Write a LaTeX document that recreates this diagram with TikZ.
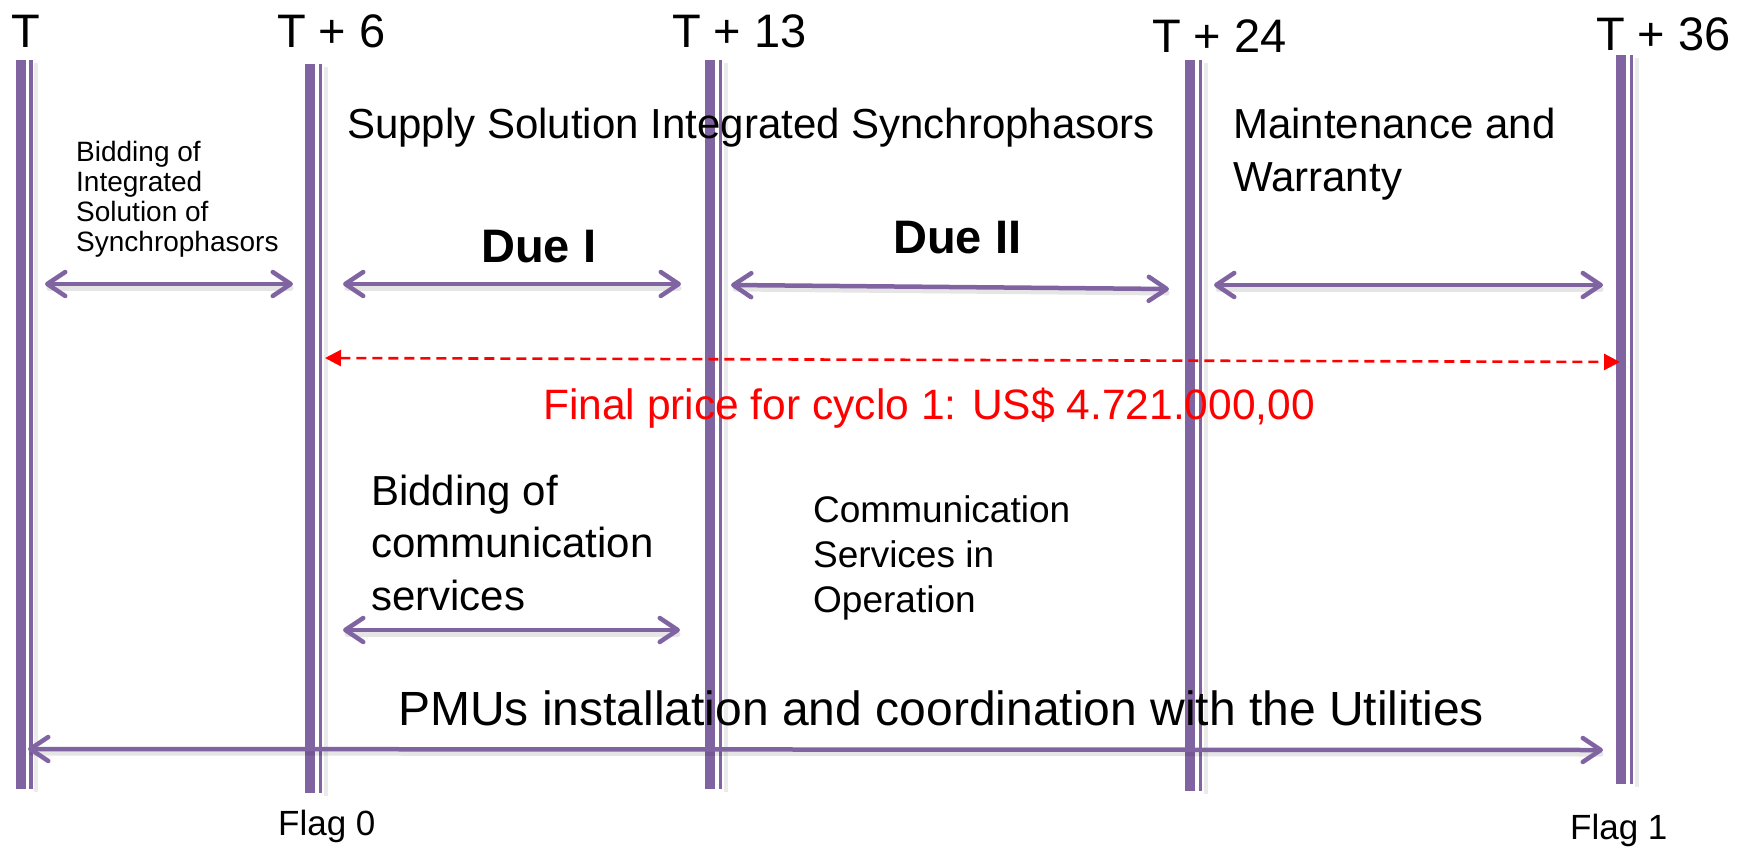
\documentclass[tikz,border=0pt]{standalone}
\usepackage{fontspec}
\setmainfont{Liberation Sans}
\usetikzlibrary{arrows.meta}
\definecolor{phase}{HTML}{8064A2}
\definecolor{pricered}{HTML}{FF0000}

\begin{document}
\begin{tikzpicture}[x=1pt,y=-1pt,
  txt/.style={inner sep=0pt, anchor=base west, text=black},
  barthick/.style={line width=10pt, phase},
  barthin/.style={line width=3.5pt, phase},
  barshade/.style={line width=4pt, black, opacity=0.08},
  tipbarb/.tip={Straight Barb[length=18pt,width=24pt,round]},
  span/.style={line width=4.5pt, phase, line cap=round, tipbarb-tipbarb},
  spanshade/.style={line width=5pt, black, opacity=0.10, line cap=round},
  pricespan/.style={line width=2.6pt, pricered, dash pattern=on 10pt off 6pt,
    {Triangle[length=16pt,width=16pt]}-{Triangle[length=16pt,width=16pt]}},
]
\useasboundingbox (0,0) rectangle (1742,847);

% ---------- milestone bars (thick stroke with a thin companion line) ----------
\foreach \n/\cx/\top/\bot in {0/20.5/60/789, 1/310/64/793, 2/710/60/789, 3/1190/60/791, 4/1621/55/784}{
  \coordinate (m\n t) at (\cx,\top);
  \coordinate (m\n b) at (\cx,\bot);
  \draw[barshade] ([shift={(15.5,3)}]m\n t) -- ([shift={(15.5,3)}]m\n b);
  \draw[barthick] (m\n t) -- (m\n b);
  \draw[barthin] ([xshift=10.5]m\n t) -- ([xshift=10.5]m\n b);
}

% ---------- milestone labels ----------
\node[txt, font=\fontsize{47}{52}\selectfont] (lT)   at (11,47)   {T};
\node[txt, font=\fontsize{47}{52}\selectfont] (lT6)  at (277,47)  {T + 6};
\node[txt, font=\fontsize{47}{52}\selectfont] (lT13) at (672,47)  {T + 13};
\node[txt, font=\fontsize{47}{52}\selectfont] (lT24) at (1152,52) {T + 24};
\node[txt, font=\fontsize{47}{52}\selectfont] (lT36) at (1596,50) {T + 36};

% ---------- phase descriptions (multi-line texts sit on their last baseline) ----------
\node[txt, align=left, font=\fontsize{28}{30}\selectfont] (bidsync) at (76,251)
  {Bidding of\\Integrated\\Solution of\\Synchrophasors};
\node[txt, font=\fontsize{42}{52}\selectfont] (supply) at (347,138)
  {Supply Solution Integrated Synchrophasors};
\node[txt, align=left, font=\fontsize{42}{53}\selectfont] (maint) at (1233,191)
  {Maintenance and\\Warranty};
\node[txt, font=\fontsize{47}{52}\selectfont\bfseries] (due1) at (481,262) {Due I};
\node[txt, font=\fontsize{47}{52}\selectfont\bfseries] (due2) at (893,253) {Due II};

% ---------- period arrows ----------
\coordinate (a1l) at (45,284);   \coordinate (a1r) at (293,284);
\coordinate (a2l) at (343,284);  \coordinate (a2r) at (681,284);
\coordinate (a3l) at (731,285);  \coordinate (a3r) at (1169,289);
\coordinate (a4l) at (1214,285); \coordinate (a4r) at (1603,285);
\coordinate (a5l) at (343,630);  \coordinate (a5r) at (680,630);
\coordinate (a6l) at (28,749);   \coordinate (a6r) at (1603,750);
\foreach \a in {1,...,6}{
  \draw[spanshade] ([shift={(4,4)}]a\a l) -- ([shift={(-2,4)}]a\a r);
}
\foreach \a in {1,...,6}{
  \draw[span] (a\a l) -- (a\a r);
}

% ---------- total price ----------
\coordinate (pl) at (325,358);
\coordinate (pr) at (1620,362);
\draw[pricespan] (pl) -- (pr);
\node[txt, text=pricered, font=\fontsize{42.5}{52}\selectfont] (price) at (543,419)
  {Final price for cyclo 1: US\$ 4.721.000,00};

% ---------- communication phases ----------
\node[txt, align=left, font=\fontsize{42}{52.5}\selectfont] (bidcom) at (371,610)
  {Bidding of\\communication\\services};
\node[txt, align=left, font=\fontsize{37}{45}\selectfont] (commop) at (813,612)
  {Communication\\Services in\\Operation};

% ---------- installation ----------
\node[txt, font=\fontsize{48}{52}\selectfont] (pmu) at (398,725)
  {PMUs installation and coordination with the Utilities};

% ---------- flags ----------
\node[txt, font=\fontsize{35}{40}\selectfont] (flag0) at (278,835)  {Flag 0};
\node[txt, font=\fontsize{35}{40}\selectfont] (flag1) at (1570,839) {Flag 1};
\end{tikzpicture}
\end{document}
